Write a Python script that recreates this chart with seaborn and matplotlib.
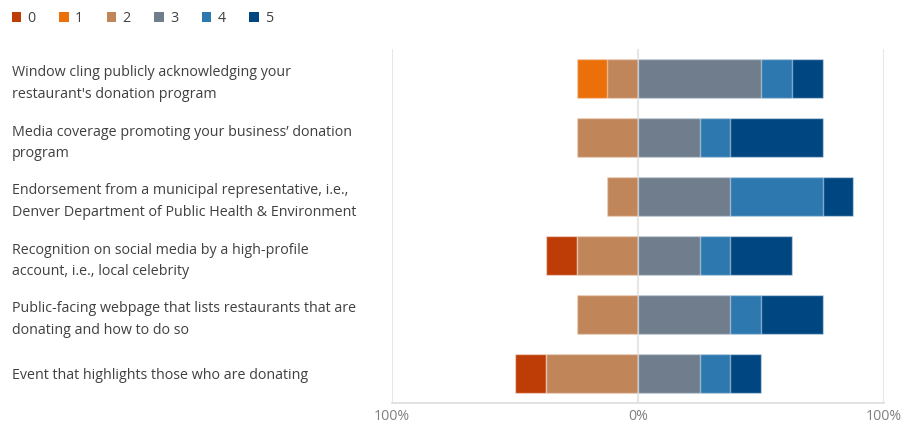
import matplotlib
matplotlib.use("Agg")
import matplotlib.pyplot as plt
from matplotlib.patches import Patch
import seaborn as sns
import pandas as pd
import numpy as np

# Survey items (one bar each, top to bottom)
items = [
    "Window cling publicly acknowledging your\nrestaurant's donation program",
    "Media coverage promoting your business\u2019 donation\nprogram",
    "Endorsement from a municipal representative, i.e.,\nDenver Department of Public Health & Environment",
    "Recognition on social media by a high-profile\naccount, i.e., local celebrity",
    "Public-facing webpage that lists restaurants that are\ndonating and how to do so",
    "Event that highlights those who are donating",
]

# Share of responses (%) for each rating
score_0 = [0.0, 0.0, 0.0, 12.5, 0.0, 12.5]
score_1 = [12.5, 0.0, 0.0, 0.0, 0.0, 0.0]
score_2 = [12.5, 25.0, 12.5, 25.0, 25.0, 37.5]
score_3 = [50.0, 25.0, 37.5, 25.0, 37.5, 25.0]
score_4 = [12.5, 12.5, 37.5, 12.5, 12.5, 12.5]
score_5 = [12.5, 37.5, 12.5, 25.0, 25.0, 12.5]

ratings = ["0", "1", "2", "3", "4", "5"]
colors = ["#BE3D06", "#EC7009", "#C0865A", "#6F7D8C", "#2E78B0", "#004782"]

tick_vals = [-100, 0, 100]
tick_text = ["100%", "0%", "100%"]

sns.set_theme(style="white")
plt.rcParams["font.family"] = ["Open Sans", "DejaVu Sans"]

df = pd.DataFrame({
    "item": items,
    "s0": score_0, "s1": score_1, "s2": score_2,
    "s3": score_3, "s4": score_4, "s5": score_5,
})

# Cumulative extents: low ratings diverge to the left, high ratings to the right
df["L0"] = -(df["s0"] + df["s1"] + df["s2"])
df["L1"] = -(df["s1"] + df["s2"])
df["L2"] = -df["s2"]
df["R5"] = df["s3"] + df["s4"] + df["s5"]
df["R4"] = df["s3"] + df["s4"]
df["R3"] = df["s3"]

fig = plt.figure(figsize=(9.01, 4.24), dpi=100)
ax = fig.add_axes([392 / 901, 21 / 424, 492 / 901, 354 / 424])

for x in tick_vals:
    ax.axvline(x, color="#E6E6E6", lw=1.5, zorder=0)

layers = [("L0", 0), ("L1", 1), ("L2", 2), ("R5", 5), ("R4", 4), ("R3", 3)]
for col, idx in layers:
    sns.barplot(data=df, x=col, y="item", orient="h", color=colors[idx],
                saturation=1, width=0.66, edgecolor=(1, 1, 1, 0.45),
                linewidth=1.0, ax=ax, zorder=2)

ax.set_xlim(-100, 100)
ax.set_ylim(5.5, -0.5)
ax.set_xlabel("")
ax.set_ylabel("")
ax.set_xticks(tick_vals)
ax.set_xticklabels(tick_text, color="#7F7F7F", fontsize=10.2)
ax.tick_params(axis="x", length=0, pad=4)
ax.tick_params(axis="y", length=0, pad=(392 - 12) * 0.72)
for lab in ax.get_yticklabels():
    lab.set_horizontalalignment("left")
    lab.set_color("#404040")
    lab.set_fontsize(10.3)
    lab.set_linespacing(1.55)

for side in ["top", "left", "right"]:
    ax.spines[side].set_visible(False)
ax.spines["bottom"].set_color("#DDDDDD")
ax.spines["bottom"].set_linewidth(1.2)

handles = [Patch(facecolor=c, edgecolor="none") for c in colors]
fig.legend(handles, ratings, loc="upper left", bbox_to_anchor=(2 / 901, 1 - 1 / 424),
           ncol=6, frameon=False, fontsize=10.3, handlelength=0.65, handleheight=0.65,
           handletextpad=0.45, columnspacing=1.65, borderpad=0.2, labelcolor="#404040")

fig.savefig("out.png", dpi=100)
